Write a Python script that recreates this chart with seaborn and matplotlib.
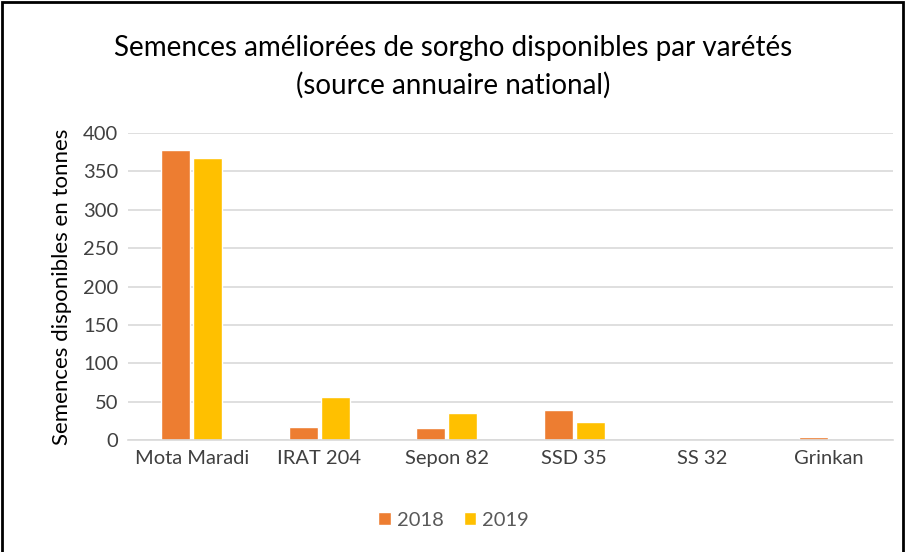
import matplotlib
matplotlib.use("Agg")
import matplotlib.pyplot as plt
import seaborn as sns
import pandas as pd
from matplotlib.patches import Rectangle

categories = ["Mota Maradi", "IRAT 204", "Sepon 82", "SSD 35", "SS 32", "Grinkan"]
values_2018 = [378, 17.5, 16, 38.5, 0, 4]
values_2019 = [367, 56, 35.5, 24, 0, 0]
years = ["2018", "2019"]

df = pd.DataFrame({
    "Variété": categories * 2,
    "Année": [years[0]] * len(categories) + [years[1]] * len(categories),
    "Valeur": values_2018 + values_2019,
})

sns.set_theme(style="white")
plt.rcParams["font.family"] = ["Lato", "DejaVu Sans"]

fig = plt.figure(figsize=(9.07, 5.52), dpi=100)
ax = fig.add_axes([128 / 907, 1 - 440 / 552, (893 - 128) / 907, (440 - 133) / 552])

sns.barplot(data=df, x="Variété", y="Valeur", hue="Année",
            palette=["#ED7D31", "#FFC000"], width=0.5, gap=0.1,
            saturation=1, ax=ax, legend=True)

ax.set_ylim(0, 400)
ax.set_yticks(range(0, 401, 50))
ax.yaxis.grid(True, color="#D9D9D9", linewidth=1.2)
ax.set_axisbelow(True)
for s in ["top", "right", "left"]:
    ax.spines[s].set_visible(False)
ax.spines["bottom"].set_color("#D9D9D9")
ax.spines["bottom"].set_linewidth(1.2)
ax.tick_params(axis="both", length=0, labelsize=14.5, labelcolor="#404040", pad=7)
ax.set_xlabel("")
ax.set_ylabel("Semences disponibles en tonnes", fontsize=16, color="#000000", labelpad=8)

fig.text(0.5, 1 - 48 / 552, "Semences améliorées de sorgho disponibles par varétés",
         ha="center", va="center", fontsize=20, color="#000000")
fig.text(0.5, 1 - 85 / 552, "(source annuaire national)",
         ha="center", va="center", fontsize=20, color="#000000")

handles, labels = ax.get_legend_handles_labels()
ax.legend_.remove()
fig.legend(handles, labels, loc="center", bbox_to_anchor=(0.5, 1 - 520 / 552),
           ncol=2, frameon=False, fontsize=14.5, handlelength=0.6, handleheight=0.6,
           handletextpad=0.3, columnspacing=1.0, labelcolor="#595959")

fig.patches.append(Rectangle((2 / 907, -0.01), 1 - 6 / 907, 1 - 2 / 552 + 0.01,
                             transform=fig.transFigure, fill=False,
                             edgecolor="black", linewidth=2))

fig.savefig("out.png", dpi=100, facecolor="white")
